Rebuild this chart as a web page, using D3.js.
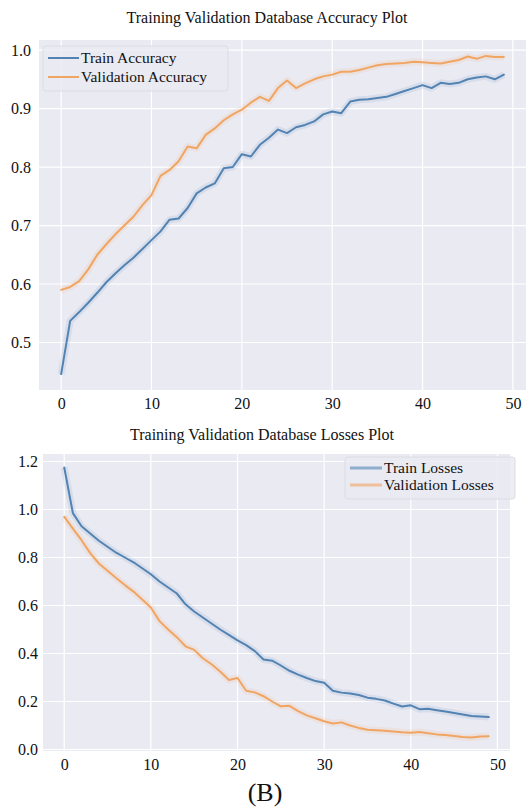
<!DOCTYPE html>
<html>
<head>
<meta charset="utf-8">
<script src="https://cdn.jsdelivr.net/npm/d3@7"></script>
<style>
  html, body { margin: 0; padding: 0; background: #ffffff; }
  svg { display: block; }
  text { font-family: "Liberation Serif", "Times New Roman", serif; fill: #111; }
</style>
</head>
<body>
<svg id="chart" width="532" height="809"></svg>
<script>
// ---- Data ----
const epochs = d3.range(0, 50);
const xTicks = [0, 10, 20, 30, 40, 50];

const trainAccuracy = [0.446, 0.537, 0.552, 0.568, 0.585, 0.603, 0.618, 0.632, 0.645, 0.660,
  0.675, 0.690, 0.710, 0.712, 0.730, 0.755, 0.765, 0.772, 0.798, 0.800,
  0.822, 0.818, 0.838, 0.850, 0.864, 0.858, 0.868, 0.872, 0.878, 0.890,
  0.895, 0.892, 0.912, 0.915, 0.916, 0.918, 0.920, 0.925, 0.930, 0.935,
  0.940, 0.935, 0.944, 0.942, 0.944, 0.950, 0.953, 0.955, 0.950, 0.958];
const validationAccuracy = [0.590, 0.595, 0.605, 0.625, 0.650, 0.668, 0.685, 0.700, 0.715, 0.735,
  0.752, 0.785, 0.795, 0.810, 0.835, 0.832, 0.855, 0.866, 0.880, 0.890,
  0.898, 0.910, 0.920, 0.913, 0.935, 0.948, 0.935, 0.943, 0.950, 0.955,
  0.958, 0.963, 0.963, 0.966, 0.970, 0.974, 0.976, 0.977, 0.978, 0.980,
  0.979, 0.978, 0.977, 0.980, 0.983, 0.989, 0.985, 0.990, 0.988, 0.988];
const accuracyYTicks = [0.5, 0.6, 0.7, 0.8, 0.9, 1.0];

const trainLosses = [1.175, 0.985, 0.930, 0.900, 0.870, 0.845, 0.820, 0.800, 0.780, 0.755,
  0.730, 0.700, 0.675, 0.650, 0.605, 0.575, 0.550, 0.525, 0.500, 0.478,
  0.455, 0.435, 0.410, 0.375, 0.370, 0.350, 0.328, 0.312, 0.298, 0.285,
  0.278, 0.245, 0.237, 0.233, 0.227, 0.216, 0.211, 0.204, 0.191, 0.179,
  0.184, 0.168, 0.170, 0.164, 0.158, 0.152, 0.146, 0.140, 0.138, 0.135];
const validationLosses = [0.970, 0.920, 0.872, 0.818, 0.775, 0.745, 0.715, 0.685, 0.658, 0.625,
  0.592, 0.535, 0.500, 0.468, 0.430, 0.415, 0.380, 0.355, 0.325, 0.290,
  0.298, 0.245, 0.238, 0.222, 0.200, 0.180, 0.182, 0.160, 0.142, 0.130,
  0.118, 0.108, 0.113, 0.100, 0.090, 0.082, 0.080, 0.078, 0.075, 0.072,
  0.070, 0.073, 0.068, 0.063, 0.060, 0.056, 0.052, 0.050, 0.054, 0.055];
const lossYTicks = [0.0, 0.2, 0.4, 0.6, 0.8, 1.0, 1.2];

const BLUE = "#5283b2";
const ORANGE = "#f0a562";
const BG = "#eaeaf2";

const svg = d3.select("#chart");

function drawPanel(cfg) {
  const xDom = [-2.45, 51.45];
  const x = d3.scaleLinear().domain(xDom).range([cfg.left, cfg.right]);
  const ext = d3.extent(cfg.series.flatMap(s => s.values));
  const pad = (ext[1] - ext[0]) * 0.05;
  const y = d3.scaleLinear().domain([ext[0] - pad, ext[1] + pad]).range([cfg.bottom, cfg.top]);

  const g = svg.append("g");
  g.append("rect")
    .attr("x", cfg.left).attr("y", cfg.top)
    .attr("width", cfg.right - cfg.left).attr("height", cfg.bottom - cfg.top)
    .attr("fill", BG);

  // gridlines
  g.append("g").selectAll("line").data(cfg.xTicks.filter(t => x(t) <= cfg.right)).join("line")
    .attr("x1", d => x(d)).attr("x2", d => x(d))
    .attr("y1", cfg.top).attr("y2", cfg.bottom)
    .attr("stroke", "#ffffff").attr("stroke-width", 1.2);
  g.append("g").selectAll("line").data(cfg.yTicks).join("line")
    .attr("x1", cfg.left).attr("x2", cfg.right)
    .attr("y1", d => y(d)).attr("y2", d => y(d))
    .attr("stroke", "#ffffff").attr("stroke-width", 1.2);

  // axes (labels only, seaborn-style)
  const xAxis = g.append("g")
    .attr("transform", `translate(0,${cfg.bottom})`)
    .call(d3.axisBottom(x).tickValues(cfg.xTicks).tickFormat(d3.format("d")).tickSize(0).tickPadding(cfg.xPad));
  xAxis.select(".domain").remove();
  xAxis.selectAll("text").attr("font-size", 16).attr("font-family", "Liberation Serif").attr("fill", "#111");

  const yAxis = g.append("g")
    .attr("transform", `translate(${cfg.left},0)`)
    .call(d3.axisLeft(y).tickValues(cfg.yTicks).tickFormat(d3.format(".1f")).tickSize(0).tickPadding(cfg.yPad));
  yAxis.select(".domain").remove();
  yAxis.selectAll("text").attr("font-size", 16).attr("font-family", "Liberation Serif").attr("fill", "#111");

  // lines
  const line = d3.line().x((d, i) => x(epochs[i])).y(d => y(d));
  cfg.series.forEach(s => {
    g.append("path").datum(s.values)
      .attr("d", line).attr("fill", "none")
      .attr("stroke", s.color).attr("stroke-width", 7).attr("stroke-opacity", 0.12)
      .attr("stroke-linejoin", "round");
    g.append("path").datum(s.values)
      .attr("d", line).attr("fill", "none")
      .attr("stroke", s.color).attr("stroke-width", 2)
      .attr("stroke-linejoin", "round").attr("stroke-linecap", "round");
  });

  // title
  svg.append("text")
    .attr("x", cfg.titleX).attr("y", cfg.titleY)
    .attr("text-anchor", "middle").attr("font-size", 16)
    .text(cfg.title);

  // legend
  const L = cfg.legend;
  const lg = svg.append("g");
  lg.append("rect")
    .attr("x", L.x).attr("y", L.y).attr("width", L.w).attr("height", L.h)
    .attr("rx", 3).attr("fill", BG).attr("fill-opacity", 0.85)
    .attr("stroke", "#dcdce4").attr("stroke-width", 1);
  cfg.series.forEach((s, i) => {
    const yy = L.y + L.firstY + i * L.step;
    lg.append("line")
      .attr("x1", L.x + L.lineX0).attr("x2", L.x + L.lineX1)
      .attr("y1", yy).attr("y2", yy)
      .attr("stroke", s.color).attr("stroke-width", L.lw).attr("stroke-opacity", L.op);
    lg.append("text")
      .attr("x", L.x + L.textX).attr("y", yy + 5)
      .attr("font-size", 15.5)
      .text(s.name);
  });
}

drawPanel({
  left: 39, right: 526, top: 40, bottom: 390,
  xPad: 8, yPad: 8,
  xTicks: xTicks, yTicks: accuracyYTicks,
  title: "Training Validation Database Accuracy Plot", titleX: 267, titleY: 23,
  series: [
    { name: "Train Accuracy", values: trainAccuracy, color: BLUE },
    { name: "Validation Accuracy", values: validationAccuracy, color: ORANGE }
  ],
  legend: { x: 43, y: 46, w: 185, h: 45, firstY: 12, step: 19, lineX0: 5, lineX1: 36, textX: 38, lw: 2, op: 1 }
});

drawPanel({
  left: 43, right: 510, top: 454, bottom: 751,
  xPad: 8, yPad: 5,
  xTicks: xTicks, yTicks: lossYTicks,
  title: "Training Validation Database Losses Plot", titleX: 262, titleY: 440,
  series: [
    { name: "Train Losses", values: trainLosses, color: BLUE },
    { name: "Validation Losses", values: validationLosses, color: ORANGE }
  ],
  legend: { x: 345, y: 457, w: 170, h: 42, firstY: 11, step: 17, lineX0: 5, lineX1: 37, textX: 39, lw: 3, op: 0.6 }
});

svg.append("text")
  .attr("x", 265).attr("y", 801)
  .attr("text-anchor", "middle").attr("font-size", 26)
  .text("(B)");
</script>
</body>
</html>
